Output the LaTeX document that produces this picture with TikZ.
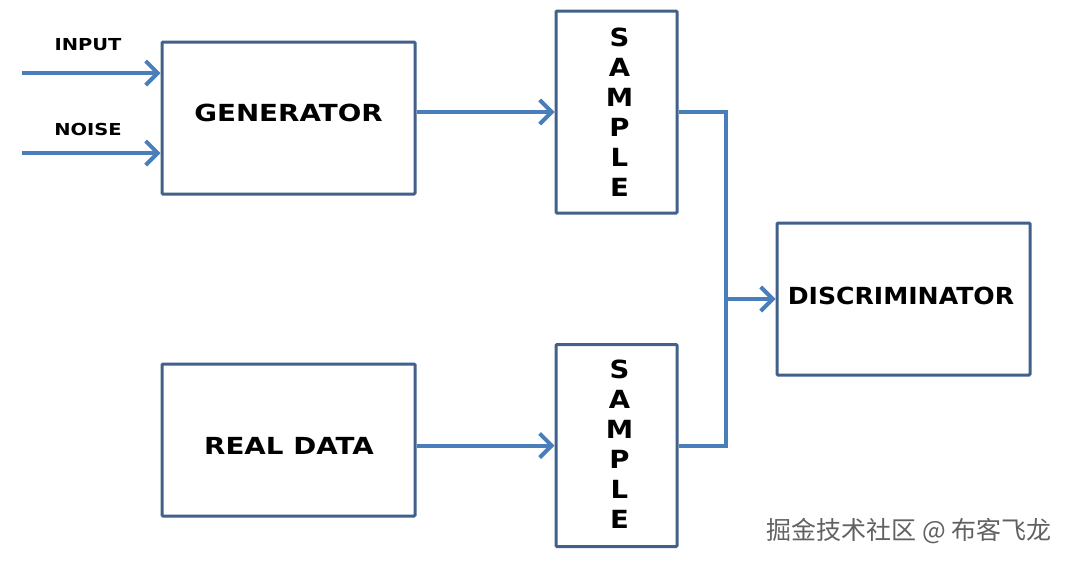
\documentclass[tikz,border=0pt]{standalone}
\usepackage{fontspec}
\setmainfont{DejaVu Sans}
\newfontfamily\cjk{Noto Sans CJK SC}
\usetikzlibrary{arrows.meta}
\definecolor{boxc}{HTML}{41618A}
\definecolor{arrc}{HTML}{4A7EBB}
\newcommand{\wide}[1]{\scalebox{1.18}[1]{#1}}
\tikzset{
  blk/.style={draw=boxc, line width=3pt, rounded corners=1pt, inner sep=0pt, fill=white,
    font=\fontsize{23.5}{23.5}\selectfont\bfseries},
  bigbox/.style={blk, minimum width=253pt, minimum height=152pt},
  smpbox/.style={blk, minimum width=121pt, minimum height=202pt},
  smptxt/.style={align=center, inner sep=0pt,
    font=\fontsize{25}{30}\selectfont\bfseries},
  txt/.style={inner sep=0pt, font=\fontsize{23.5}{23.5}\selectfont\bfseries},
  conn/.style={draw=arrc, line width=4pt},
  arr/.style={conn, -{Straight Barb[length=12pt, width=24pt, line width=4pt]}},
  lbl/.style={font=\fontsize{16.5}{16.5}\selectfont\bfseries, inner sep=0pt},
}
\begin{document}
\begin{tikzpicture}[x=1pt, y=-1pt]
\useasboundingbox (0,0) rectangle (1070,563);
\node[bigbox] (gen) at (288.5,118) {};
\node[bigbox] (real) at (288.5,440) {};
\node[smpbox] (s1) at (616.5,112) {};
\node[smpbox] (s2) at (616.5,445.5) {};
\node[bigbox] (disc) at (903.5,299) {};
\node[txt] (tgen) at (288.5,113) {\wide{GENERATOR}};
\node[txt] (treal) at (289,446) {\wide{REAL DATA}};
\node[txt] (tdisc) at (901,296) {\scalebox{1.07}[1]{DISCRIMINATOR}};
\node[smptxt] (ts1) at (619.5,112) {\scalebox{1.1}[1]{S}\\\scalebox{1.1}[1]{A}\\\scalebox{1.1}[1]{M}\\\scalebox{1.1}[1]{P}\\\scalebox{1.1}[1]{L}\\\scalebox{1.1}[1]{E}};
\node[smptxt] (ts2) at (619.5,444) {\scalebox{1.1}[1]{S}\\\scalebox{1.1}[1]{A}\\\scalebox{1.1}[1]{M}\\\scalebox{1.1}[1]{P}\\\scalebox{1.1}[1]{L}\\\scalebox{1.1}[1]{E}};
\node[lbl] (linput) at (88,45) {\wide{INPUT}};
\node[lbl] (lnoise) at (88,129) {\wide{NOISE}};
\coordinate (in1) at (22,73);
\coordinate (in2) at (22,153);
\coordinate (jx) at (726,0);
\draw[arr] (in1) -- (in1 -| gen.west);
\draw[arr] (in2) -- (in2 -| gen.west);
\draw[arr] (s1.west -| gen.east) -- (s1.west);
\draw[arr] (s2.west -| real.east) -- (s2.west);
\draw[conn] (s1.east) -| (jx |- s2.east) -- (s2.east);
\draw[arr] (jx |- disc.west) -- (disc.west);
\node[text=black!62, font=\cjk\fontsize{25}{25}\selectfont, anchor=east, inner sep=0pt] (wm) at (1052,531) {掘金技术社区 @ 布客飞龙};
\end{tikzpicture}
\end{document}
